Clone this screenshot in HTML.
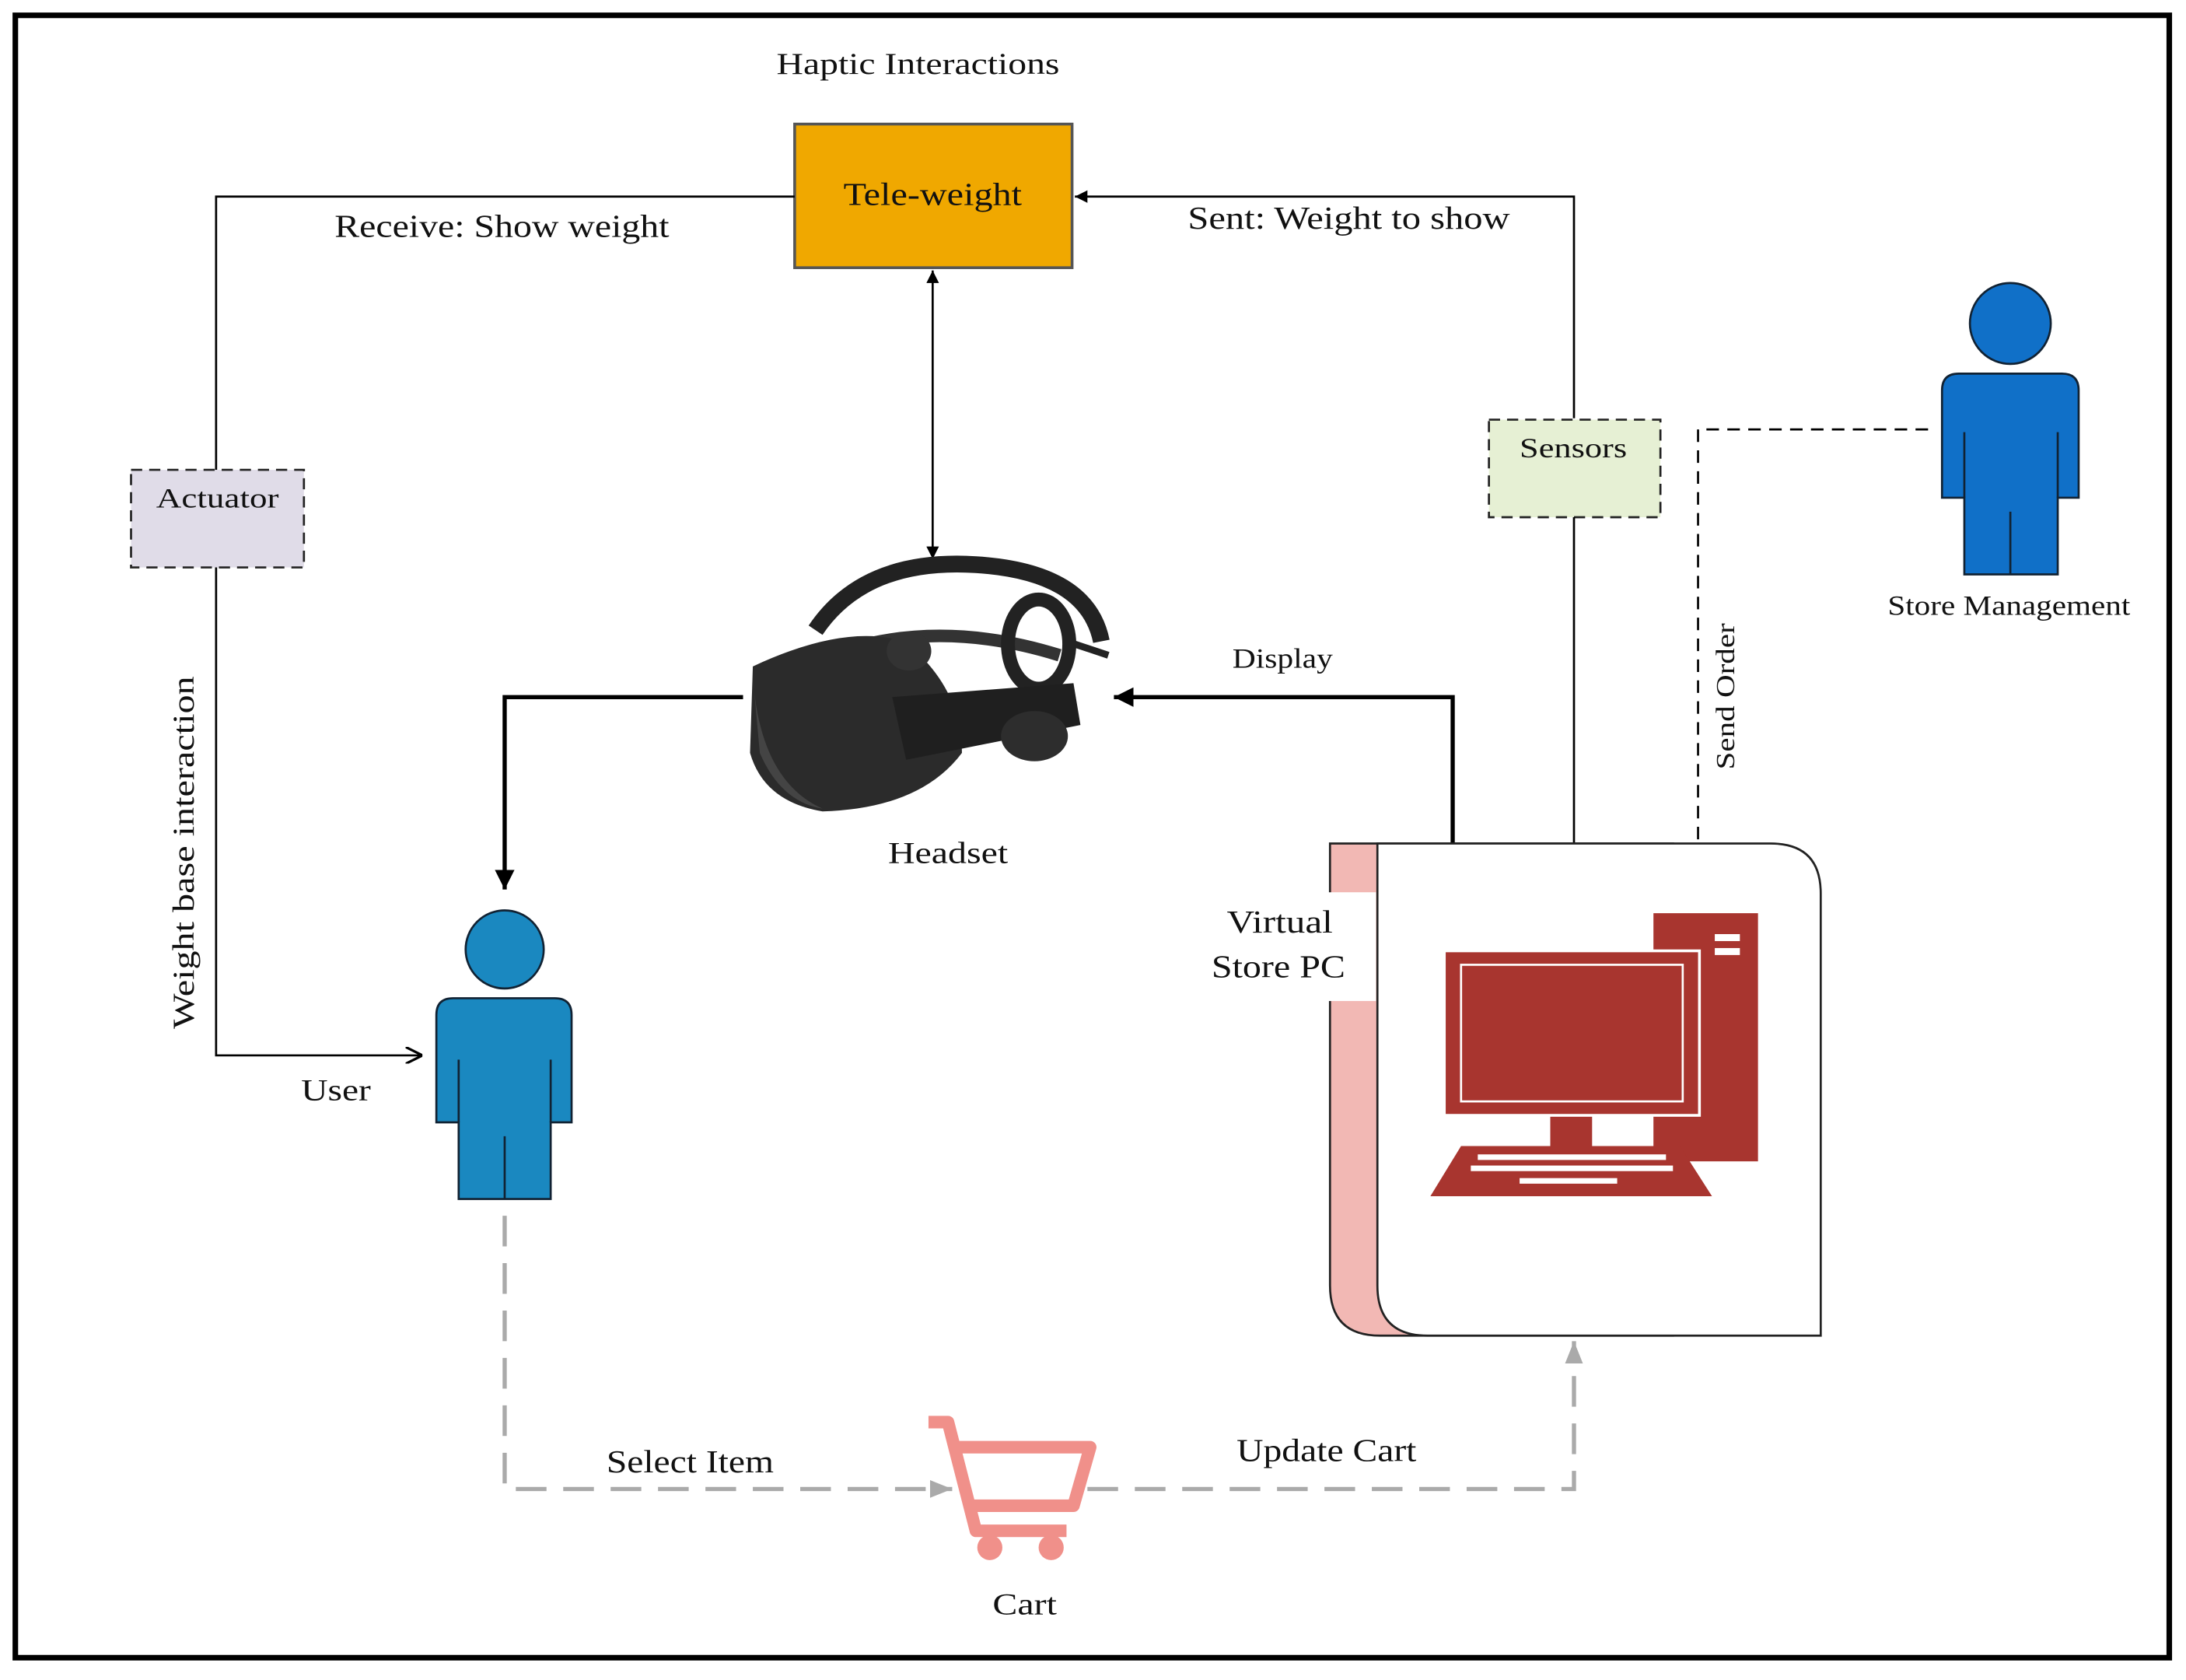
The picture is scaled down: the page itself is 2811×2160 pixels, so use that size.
<!DOCTYPE html>
<html><head><meta charset="utf-8"><style>
html,body{margin:0;padding:0;background:#fff;}
svg{display:block;}
text{font-family:"Liberation Serif",serif;fill:#111;}
</style></head><body>
<svg width="2811" height="2160" viewBox="0 0 1568 1205" preserveAspectRatio="none" xmlns="http://www.w3.org/2000/svg">
<defs>
<marker id="fa" viewBox="0 0 10 10" refX="10" refY="5" markerWidth="9" markerHeight="9" orient="auto-start-reverse" markerUnits="userSpaceOnUse"><path d="M0,0 L10,5 L0,10 z" fill="#000"/></marker>
<marker id="fa2" viewBox="0 0 10 10" refX="10" refY="5" markerWidth="14" markerHeight="14" orient="auto" markerUnits="userSpaceOnUse"><path d="M0,0 L10,5 L0,10 z" fill="#000"/></marker>
<marker id="oa" viewBox="0 0 10 10" refX="10" refY="5" markerWidth="12" markerHeight="12" orient="auto" markerUnits="userSpaceOnUse"><path d="M0,0 L10,5 L0,10" fill="none" stroke="#000" stroke-width="1.5"/></marker>
<marker id="ga" viewBox="0 0 10 10" refX="10" refY="5" markerWidth="16" markerHeight="16" orient="auto" markerUnits="userSpaceOnUse"><path d="M0,1 L10,5 L0,9 z" fill="#aaa"/></marker>
</defs>
<rect x="11" y="11" width="1545" height="1178" fill="#fff" stroke="#000" stroke-width="4"/>

<text x="557" y="53" font-size="22" textLength="203" lengthAdjust="spacingAndGlyphs">Haptic Interactions</text>
<rect x="570" y="89" width="199" height="103" fill="#f0a800" stroke="#555" stroke-width="2"/>
<text x="605" y="147" font-size="23" textLength="128" lengthAdjust="spacingAndGlyphs">Tele-weight</text>

<polyline points="570,141 155,141 155,337" fill="none" stroke="#000" stroke-width="1.5"/>
<text x="240" y="170" font-size="23" textLength="240" lengthAdjust="spacingAndGlyphs">Receive: Show weight</text>
<rect x="94" y="337" width="124" height="70" fill="#e0dce8" stroke="#222" stroke-width="1.5" stroke-dasharray="8,5"/>
<text x="112" y="364" font-size="20" textLength="88" lengthAdjust="spacingAndGlyphs">Actuator</text>
<polyline points="155,407 155,757 303,757" fill="none" stroke="#000" stroke-width="1.5" marker-end="url(#oa)"/>
<text transform="translate(139,738) rotate(-90)" font-size="22" textLength="253" lengthAdjust="spacingAndGlyphs">Weight base interaction</text>
<text x="216" y="789" font-size="22" textLength="50" lengthAdjust="spacingAndGlyphs">User</text>

<circle cx="362" cy="681" r="28" fill="#1a88c0" stroke="#123" stroke-width="1.5"/>
<path d="M325,716 H398 Q410,716 410,728 V805 H395 V860 H329 V805 H313 V728 Q313,716 325,716Z" fill="#1a88c0" stroke="#123" stroke-width="1.5"/>
<line x1="362" y1="815" x2="362" y2="860" stroke="#123" stroke-width="1.5"/>
<line x1="329" y1="760" x2="329" y2="805" stroke="#123" stroke-width="1.5"/>
<line x1="395" y1="760" x2="395" y2="805" stroke="#123" stroke-width="1.5"/>

<line x1="669" y1="194" x2="669" y2="401" stroke="#000" stroke-width="1.5" marker-start="url(#fa)" marker-end="url(#fa)"/>

<g>
<path d="M585,452 Q620,400 700,405 Q780,410 790,460" fill="none" stroke="#222" stroke-width="12"/>
<path d="M610,465 Q680,445 760,470" fill="none" stroke="#333" stroke-width="9"/>
<ellipse cx="745" cy="462" rx="22" ry="32" fill="none" stroke="#222" stroke-width="10"/>
<path d="M540,478 Q600,450 640,458 L660,470 Q690,500 690,540 Q660,580 590,582 Q548,575 538,540 Z" fill="#2b2b2b"/>
<path d="M540,485 Q545,560 590,580 Q560,575 545,540Z" fill="#444"/>
<path d="M640,500 L770,490 L775,520 L650,545Z" fill="#1f1f1f"/>
<ellipse cx="652" cy="467" rx="16" ry="14" fill="#333"/>
<ellipse cx="742" cy="528" rx="24" ry="18" fill="#2d2d2d"/>
<line x1="765" y1="460" x2="795" y2="470" stroke="#222" stroke-width="5"/>
</g>
<text x="637" y="619" font-size="22" textLength="86" lengthAdjust="spacingAndGlyphs">Headset</text>

<polyline points="533,500 362,500 362,638" fill="none" stroke="#000" stroke-width="3" marker-end="url(#fa2)"/>
<polyline points="1042,605 1042,500 799,500" fill="none" stroke="#000" stroke-width="3" marker-end="url(#fa2)"/>
<text x="884" y="479" font-size="20" textLength="72" lengthAdjust="spacingAndGlyphs">Display</text>

<polyline points="1129,300 1129,141 771,141" fill="none" stroke="#000" stroke-width="1.5" marker-end="url(#fa)"/>
<text x="852" y="164" font-size="23" textLength="231" lengthAdjust="spacingAndGlyphs">Sent: Weight to show</text>
<rect x="1068" y="301" width="123" height="70" fill="#e6f0d4" stroke="#222" stroke-width="1.5" stroke-dasharray="8,5"/>
<text x="1090" y="328" font-size="20" textLength="77" lengthAdjust="spacingAndGlyphs">Sensors</text>
<line x1="1129" y1="371" x2="1129" y2="605" stroke="#000" stroke-width="1.5"/>

<circle cx="1442" cy="232" r="29" fill="#1070c8" stroke="#123" stroke-width="1.5"/>
<path d="M1405,268 H1479 Q1491,268 1491,280 V357 H1476 V412 H1409 V357 H1393 V280 Q1393,268 1405,268Z" fill="#1070c8" stroke="#123" stroke-width="1.5"/>
<line x1="1442" y1="367" x2="1442" y2="412" stroke="#123" stroke-width="1.5"/>
<line x1="1409" y1="310" x2="1409" y2="357" stroke="#123" stroke-width="1.5"/>
<line x1="1476" y1="310" x2="1476" y2="357" stroke="#123" stroke-width="1.5"/>
<text x="1354" y="441" font-size="20" textLength="174" lengthAdjust="spacingAndGlyphs">Store Management</text>
<polyline points="1383,308 1218,308 1218,605" fill="none" stroke="#000" stroke-width="1.5" stroke-dasharray="9,6"/>
<text transform="translate(1244,552) rotate(-90)" font-size="19" textLength="105" lengthAdjust="spacingAndGlyphs">Send Order</text>

<path d="M954,605 H1200 V958 H990 Q954,958 954,922 Z" fill="#f2b8b4" stroke="#222" stroke-width="1.5"/>
<path d="M988,605 H1270 Q1306,605 1306,641 V958 H1024 Q988,958 988,922 Z" fill="#fff" stroke="#222" stroke-width="1.5"/>
<rect x="946" y="640" width="41" height="78" fill="#fff"/>
<text x="880" y="669" font-size="23" textLength="76" lengthAdjust="spacingAndGlyphs">Virtual</text>
<text x="869" y="701" font-size="23" textLength="96" lengthAdjust="spacingAndGlyphs">Store PC</text>
<rect x="1186" y="655" width="75" height="178" fill="#a8352f"/>
<rect x="1230" y="670" width="18" height="5" fill="#fff"/>
<rect x="1230" y="680" width="18" height="5" fill="#fff"/>
<rect x="1112" y="795" width="30" height="28" fill="#a8352f"/>
<rect x="1036" y="682" width="183" height="118" fill="#a8352f" stroke="#fff" stroke-width="2"/>
<rect x="1048" y="692" width="159" height="98" fill="none" stroke="#fff" stroke-width="1.5"/>
<path d="M1048,822 H1205 L1228,858 H1026Z" fill="#a8352f"/>
<g fill="#fff">
<rect x="1060" y="828" width="135" height="4"/>
<rect x="1055" y="836" width="145" height="4"/>
<rect x="1090" y="845" width="70" height="4"/>
</g>

<polyline points="362,872 362,1068 683,1068" fill="none" stroke="#aaa" stroke-width="3" stroke-dasharray="22,12" marker-end="url(#ga)"/>
<text x="435" y="1056" font-size="23" textLength="120" lengthAdjust="spacingAndGlyphs">Select Item</text>
<polyline points="780,1068 1129,1068 1129,962" fill="none" stroke="#aaa" stroke-width="3" stroke-dasharray="22,12" marker-end="url(#ga)"/>
<text x="887" y="1048" font-size="23" textLength="129" lengthAdjust="spacingAndGlyphs">Update Cart</text>
<g fill="none" stroke="#f0908a" stroke-width="9" stroke-linejoin="round">
<path d="M666,1020 H680 L700,1098 H765"/>
<path d="M684,1038 H782 L770,1080 H695"/>
</g>
<circle cx="710" cy="1110" r="9" fill="#f0908a"/>
<circle cx="754" cy="1110" r="9" fill="#f0908a"/>
<text x="712" y="1158" font-size="22" textLength="46" lengthAdjust="spacingAndGlyphs">Cart</text>
</svg>
</body></html>
